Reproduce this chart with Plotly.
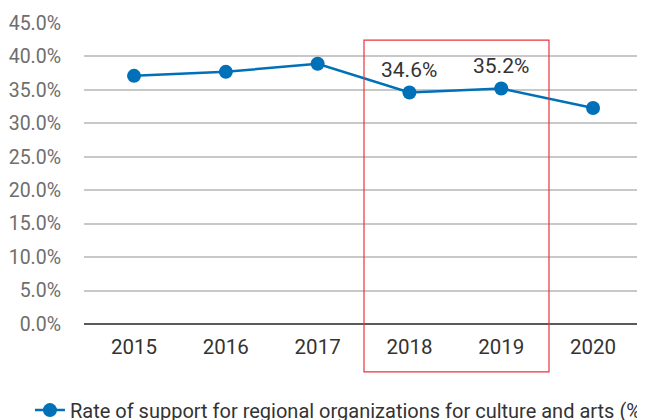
import plotly.graph_objects as go

years = ["2015", "2016", "2017", "2018", "2019", "2020"]
rates = [37.1, 37.7, 38.9, 34.6, 35.2, 32.3]
labeled_years = ["2018", "2019"]
series_name = "Rate of support for regional organizations for culture and arts (%)"
y_ticks = [0, 5, 10, 15, 20, 25, 30, 35, 40, 45]

BLUE = "#0070b8"
FONT = "Roboto, Liberation Sans, Arial, sans-serif"

fig = go.Figure()
fig.add_trace(go.Scatter(
    x=list(range(len(years))), y=rates, mode="lines+markers",
    name=series_name,
    line=dict(color=BLUE, width=2.5),
    marker=dict(color=BLUE, size=14),
))

for yr in labeled_years:
    i = years.index(yr)
    fig.add_annotation(x=i, y=rates[i], text=f"{rates[i]:.1f}%", showarrow=False,
                       yanchor="bottom", yshift=9,
                       font=dict(size=21, color="#333333", family=FONT))

# red highlight box around 2018-2019
i0 = years.index(labeled_years[0])
i1 = years.index(labeled_years[-1])
fig.add_shape(type="rect", xref="x", yref="paper",
              x0=i0 - 0.495, x1=i1 + 0.52, y0=-0.159, y1=0.943,
              line=dict(color="#e8343c", width=1.2), fillcolor="rgba(0,0,0,0)")

fig.update_layout(
    width=645, height=420,
    margin=dict(l=76, r=0, t=15, b=104, autoexpand=False),
    plot_bgcolor="white", paper_bgcolor="white",
    font=dict(family=FONT),
    showlegend=True,
    legend=dict(orientation="h", x=-0.095, y=-0.286, xanchor="left", yanchor="middle",
                font=dict(size=20, color="#333333"), bgcolor="rgba(0,0,0,0)"),
    xaxis=dict(range=[-0.545, 5.653], tickmode="array",
               tickvals=list(range(len(years))), ticktext=years,
               showgrid=False, zeroline=False, showline=False, ticks="",
               automargin=False,
               tickfont=dict(size=20.5, color="#333333"), ticklabelstandoff=8),
    yaxis=dict(range=[0, 45], tickmode="array", tickvals=y_ticks,
               ticktext=[f"{v:.1f}%" for v in y_ticks],
               showgrid=True, gridcolor="#c8c8c8", gridwidth=1.5,
               zeroline=True, zerolinecolor="#5a5a5a", zerolinewidth=2,
               showline=False, ticks="", automargin=False,
               tickfont=dict(size=19.5, color="#6e6e6e"), ticklabelstandoff=22),
)

fig.write_html("out.html")
